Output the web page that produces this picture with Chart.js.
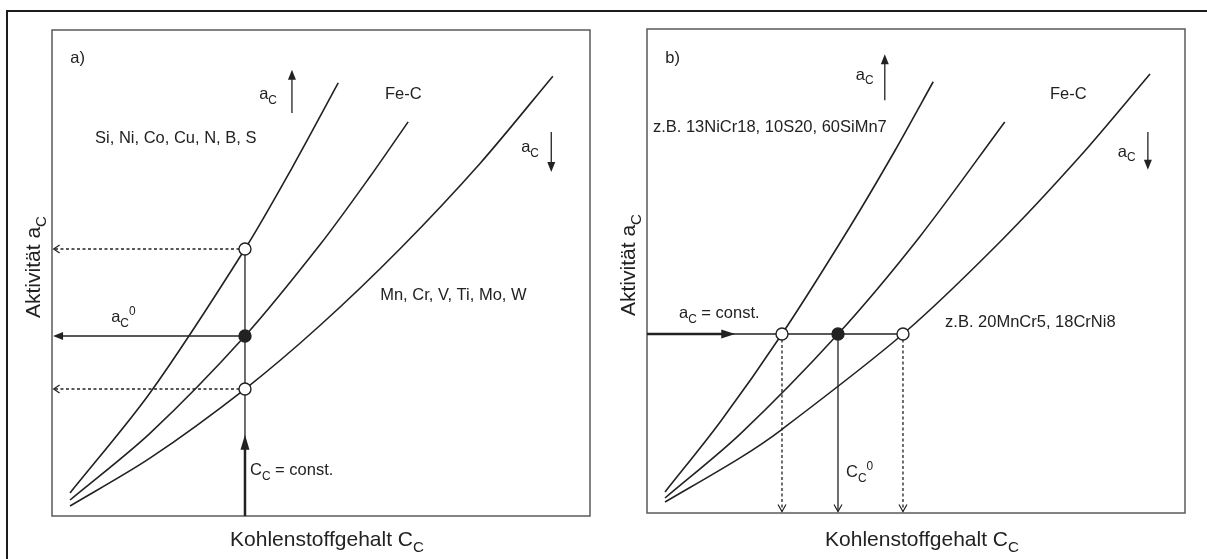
<!DOCTYPE html>
<html>
<head>
<meta charset="utf-8">
<script src="https://cdn.jsdelivr.net/npm/chart.js@4.4.1/dist/chart.umd.min.js"></script>
<style>
  body { margin: 0; background: #fff; width: 1207px; height: 559px; position: relative; overflow: hidden; }
  #frame { position: absolute; left: 6px; top: 10px; right: 0; bottom: 0;
           border-top: 2px solid #1c1c1c; border-left: 2px solid #1c1c1c; }
  #wrapA { position: absolute; left: 0; top: 0; }
  #wrapB { position: absolute; left: 600px; top: 0; }
</style>
</head>
<body>
<div id="frame"></div>
<div id="wrapA"><canvas id="chartA" width="600" height="559"></canvas></div>
<div id="wrapB"><canvas id="chartB" width="607" height="559"></canvas></div>
<script>
// Kohlenstoffaktivität über Kohlenstoffgehalt, beide Achsen in relativen Einheiten (0..100)
// Teil a): gleicher Kohlenstoffgehalt, Teil b): gleiche Aktivität

// a) Kurven [C_C, a_C]
const raisedA  = [[3.35, 4.73], [18.2, 25.3], [35.87, 54.94], [44.6, 71.6], [53.2, 89.1]];
const feCA     = [[3.35, 3.29], [18.2, 17.0], [35.87, 37.04], [49.8, 55.8], [59.1, 69.8], [66.2, 81.1]];
const loweredA = [[3.35, 2.06], [18.2, 11.9], [35.87, 26.13], [49.8, 39.2], [64.7, 55.0], [79.6, 72.6], [93.1, 90.5]];
const ccConstA = 35.87;
const markerA = [54.94, 37.04, 26.13];   // a_C der drei Legierungen bei C_C = const.

// b) Kurven [C_C, a_C]
const raisedB  = [[3.35, 4.34], [13.6, 18.8], [25.09, 36.98], [37.7, 59.1], [46.1, 74.9], [53.2, 89.1]];
const feCB     = [[3.35, 3.10], [17.3, 16.3], [35.50, 36.98], [50.7, 57.1], [66.5, 80.8]];
const loweredB = [[3.35, 2.27], [17.3, 11.4], [25.1, 17.3], [47.58, 36.98], [65.6, 56.0], [80.5, 73.7], [93.5, 90.7]];
const acConstB = 36.98;
const markerB = [25.09, 35.50, 47.58];   // C_C der drei Legierungen bei a_C = const.

const FONT = '"Liberation Sans", Arial, Helvetica, sans-serif';
const INK = '#222';

const toXY = arr => arr.map(([x, y]) => ({ x, y }));

// Text mit Index/Exponent, parts: [{t, sub}|{t, sup}]
function drawRich(ctx, parts, x, y, size, align) {
  const small = size * 0.72;
  let w = 0;
  parts.forEach(p => {
    ctx.font = `${p.sub || p.sup ? small : size}px ${FONT}`;
    p.w = ctx.measureText(p.t).width;
    w += p.w;
  });
  let cx = align === 'center' ? x - w / 2 : align === 'right' ? x - w : x;
  parts.forEach(p => {
    ctx.font = `${p.sub || p.sup ? small : size}px ${FONT}`;
    const dy = p.sub ? size * 0.28 : p.sup ? -size * 0.42 : 0;
    ctx.fillText(p.t, cx, y + dy);
    cx += p.w;
  });
}

function arrowHead(ctx, tipX, tipY, dirX, dirY, len, half, filled) {
  const bx = tipX - dirX * len, by = tipY - dirY * len;
  const nx = -dirY, ny = dirX;
  ctx.beginPath();
  ctx.moveTo(bx + nx * half, by + ny * half);
  ctx.lineTo(tipX, tipY);
  ctx.lineTo(bx - nx * half, by - ny * half);
  if (filled) { ctx.closePath(); ctx.fill(); } else { ctx.setLineDash([]); ctx.stroke(); }
}

const guides = {
  id: 'guides',
  beforeDatasetsDraw(chart, args, opts) {
    const { ctx, chartArea: a, scales: { x, y } } = chart;
    ctx.save();
    ctx.strokeStyle = '#5a5a5a';
    ctx.lineWidth = 1.5;
    ctx.strokeRect(a.left, a.top, a.right - a.left, a.bottom - a.top);
    ctx.strokeStyle = INK;
    ctx.fillStyle = INK;
    (opts.lines || []).forEach(l => {
      const x1 = x.getPixelForValue(l.from[0]), y1 = y.getPixelForValue(l.from[1]);
      const x2 = x.getPixelForValue(l.to[0]), y2 = y.getPixelForValue(l.to[1]);
      const len = Math.hypot(x2 - x1, y2 - y1), dx = (x2 - x1) / len, dy = (y2 - y1) / len;
      ctx.lineWidth = l.width || 1.3;
      ctx.setLineDash(l.dash ? [3, 2.5] : []);
      const stop = l.head === 'filled' ? (l.headLen || 11) - 2 : 0;
      ctx.beginPath();
      ctx.moveTo(x1, y1);
      ctx.lineTo(x2 - dx * stop, y2 - dy * stop);
      ctx.stroke();
      if (l.head) {
        ctx.lineWidth = 1.2;
        arrowHead(ctx, x2, y2, dx, dy, l.headLen || 11, l.headHalf || 4.5, l.head === 'filled');
      }
    });
    ctx.restore();
  },
  afterDraw(chart, args, opts) {
    const { ctx, chartArea: a, scales: { x, y } } = chart;
    ctx.save();
    ctx.fillStyle = INK;
    ctx.textBaseline = 'alphabetic';
    (opts.texts || []).forEach(t => {
      drawRich(ctx, t.parts, x.getPixelForValue(t.at[0]), y.getPixelForValue(t.at[1]), t.size || 16.5, t.align || 'left');
    });
    // Achsenbeschriftungen
    drawRich(ctx, [{ t: 'Kohlenstoffgehalt C' }, { t: 'C', sub: true }],
      (a.left + a.right) / 2 + 6, a.bottom + opts.xTitleGap, 21, 'center');
    ctx.translate(a.left - 12, (a.top + a.bottom) / 2 - 6);
    ctx.rotate(-Math.PI / 2);
    drawRich(ctx, [{ t: 'Aktivität a' }, { t: 'C', sub: true }], 0, 0, 21, 'center');
    ctx.restore();
  }
};

function curve(data) {
  return {
    data: toXY(data), showLine: true, pointRadius: 0, borderColor: INK, borderWidth: 1.6,
    tension: 0.3, order: 2
  };
}
function markers(points, fills) {
  return {
    data: points, showLine: false, pointRadius: 6, pointHoverRadius: 6,
    pointBackgroundColor: fills, pointBorderColor: INK, pointBorderWidth: 1.4, order: 1
  };
}

function makeChart(id, datasets, padding, guideOpts) {
  return new Chart(document.getElementById(id), {
    type: 'scatter',
    data: { datasets },
    options: {
      responsive: false, animation: false, devicePixelRatio: 1,
      layout: { padding },
      scales: {
        x: { type: 'linear', min: 0, max: 100, display: false },
        y: { type: 'linear', min: 0, max: 100, display: false }
      },
      plugins: { legend: { display: false }, tooltip: { enabled: false }, guides: guideOpts }
    },
    plugins: [guides]
  });
}

const aC = [{ t: 'a' }, { t: 'C', sub: true }];

makeChart('chartA', [
  curve(raisedA), curve(feCA), curve(loweredA),
  markers(markerA.map(v => ({ x: ccConstA, y: v })), ['#fff', INK, '#fff'])
], { left: 52, right: 10, top: 30, bottom: 43 }, {
  xTitleGap: 30,
  lines: [
    { from: [ccConstA, markerA[0]], to: [0.3, markerA[0]], dash: true, head: 'open', headLen: 6, headHalf: 4 },
    { from: [ccConstA, markerA[1]], to: [0.2, markerA[1]], head: 'filled', headLen: 10, headHalf: 4 },
    { from: [ccConstA, markerA[2]], to: [0.3, markerA[2]], dash: true, head: 'open', headLen: 6, headHalf: 4 },
    { from: [ccConstA, 0], to: [ccConstA, markerA[0]] },
    { from: [ccConstA, 0], to: [ccConstA, 16.7], width: 2.5, head: 'filled', headLen: 15, headHalf: 4.5 },
    { from: [44.6, 82.9], to: [44.6, 91.8], head: 'filled', headLen: 10, headHalf: 4 },
    { from: [92.8, 79.0], to: [92.8, 70.8], head: 'filled', headLen: 10, headHalf: 4 }
  ],
  texts: [
    { parts: [{ t: 'a)' }], at: [3.4, 93.2] },
    { parts: aC, at: [38.5, 85.8] },
    { parts: [{ t: 'Si, Ni, Co, Cu, N, B, S' }], at: [8.0, 76.7] },
    { parts: [{ t: 'Fe-C' }], at: [61.9, 85.8] },
    { parts: aC, at: [87.2, 74.9] },
    { parts: [{ t: 'Mn, Cr, V, Ti, Mo, W' }], at: [61.0, 44.4] },
    { parts: [{ t: 'a' }, { t: 'C', sub: true }, { t: '0', sup: true }], at: [11.0, 39.9] },
    { parts: [{ t: 'C' }, { t: 'C', sub: true }, { t: ' = const.' }], at: [36.8, 8.4] }
  ]
});

makeChart('chartB', [
  curve(raisedB), curve(feCB), curve(loweredB),
  markers(markerB.map(v => ({ x: v, y: acConstB })), ['#fff', INK, '#fff'])
], { left: 47, right: 22, top: 29, bottom: 46 }, {
  xTitleGap: 33,
  lines: [
    { from: [0, acConstB], to: [markerB[2], acConstB] },
    { from: [0, acConstB], to: [16.4, acConstB], width: 2.5, head: 'filled', headLen: 14, headHalf: 4.5 },
    { from: [markerB[0], acConstB], to: [markerB[0], 0.3], dash: true, head: 'open', headLen: 7, headHalf: 4 },
    { from: [markerB[1], acConstB], to: [markerB[1], 0.3], head: 'open', headLen: 7, headHalf: 4 },
    { from: [markerB[2], acConstB], to: [markerB[2], 0.3], dash: true, head: 'open', headLen: 7, headHalf: 4 },
    { from: [44.2, 85.3], to: [44.2, 94.8], head: 'filled', headLen: 10, headHalf: 4 },
    { from: [93.1, 78.7], to: [93.1, 70.9], head: 'filled', headLen: 10, headHalf: 4 }
  ],
  texts: [
    { parts: [{ t: 'b)' }], at: [3.4, 93.0] },
    { parts: aC, at: [38.8, 89.5] },
    { parts: [{ t: 'z.B. 13NiCr18, 10S20, 60SiMn7' }], at: [1.1, 78.7] },
    { parts: [{ t: 'Fe-C' }], at: [74.9, 85.5] },
    { parts: aC, at: [87.5, 73.6] },
    { parts: [{ t: 'a' }, { t: 'C', sub: true }, { t: ' = const.' }], at: [5.95, 40.3] },
    { parts: [{ t: 'z.B. 20MnCr5, 18CrNi8' }], at: [55.4, 38.4] },
    { parts: [{ t: 'C' }, { t: 'C', sub: true }, { t: '0', sup: true }], at: [37.0, 7.4] }
  ]
});
</script>
</body>
</html>
